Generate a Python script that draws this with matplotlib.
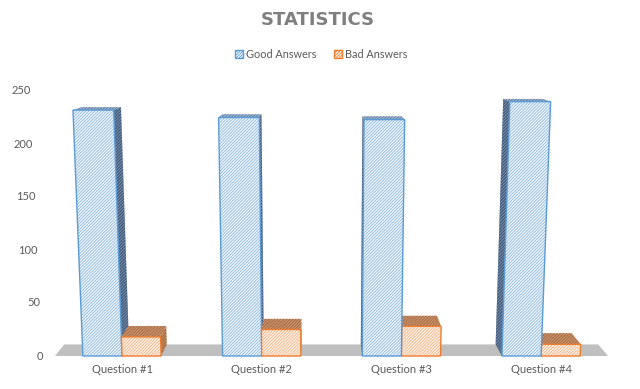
import matplotlib
matplotlib.use("Agg")
import matplotlib.pyplot as plt
from matplotlib.patches import Polygon, Patch

# ---- data ----
categories = ["Question #1", "Question #2", "Question #3", "Question #4"]
good_answers = [232, 225, 223, 240]
bad_answers = [18, 25, 28, 11]
series_names = ["Good Answers", "Bad Answers"]
y_ticks = [0, 50, 100, 150, 200, 250]

# ---- style / geometry ----
plt.rcParams['font.family'] = ['Lato', 'DejaVu Sans']
plt.rcParams['hatch.linewidth'] = 0.6
TXT = '#595959'
HATCH = '/' * 11
BAR_W = 0.28
XC = 1.42          # centre of horizontal flare / vanishing x
VPY = 312.0        # vanishing point height (data units)
K = 0.035          # depth shrink
FLARE = 1.8e-4

styles = {
    "good": dict(front=('#f3f8fd', '#8ab6e0', '#5B9BD5'),
                 side=('#40597a', '#8196b0'),
                 top=('#9bb3cf', '#5f7b9b')),
    "bad": dict(front=('#fef5ee', '#f4ae7c', '#ED7D31'),
                side=('#a8683f', '#cf9469'),
                top=('#c9946c', '#a3653d')),
}


def proj(x, v, d):
    x1 = XC + (x - XC) * (1 + FLARE * v)
    return x1 + (XC - x1) * K * d, v + (VPY - v) * K * d


fig = plt.figure(figsize=(6.4, 3.89), dpi=100)
ax = fig.add_axes([0, 33 / 389, 1, 356 / 389])
ax.set_xlim(-122 / 139.7, (640 - 122) / 139.7)
ax.set_ylim(0, 356 / 1.06)
for s in ax.spines.values():
    s.set_visible(False)
ax.set_yticks([])


def face(pts, fc, hc, ec=None, z=2):
    ax.add_patch(Polygon(pts, closed=True, facecolor=fc, edgecolor=hc,
                         hatch=HATCH, linewidth=0, zorder=z, clip_on=False))
    if ec is not None:
        ax.add_patch(Polygon(pts, closed=True, fill=False, edgecolor=ec,
                             linewidth=1.0, zorder=z, clip_on=False))


# floor
fl, fr = -0.48, 3.48
floor = [proj(fl, 0, 0), proj(fr, 0, 0), proj(fr, 0, 1), proj(fl, 0, 1)]
ax.add_patch(Polygon(floor, closed=True, facecolor='#bfbfbf', edgecolor='none',
                     zorder=1, clip_on=False))

# bars
bars = []
for i in range(len(categories)):
    bars.append((i - BAR_W, i, good_answers[i], "good"))
    bars.append((i, i + BAR_W, bad_answers[i], "bad"))
bars.sort(key=lambda b: -abs((b[0] + b[1]) / 2 - XC))

for x0, x1, v, kind in bars:
    st = styles[kind]
    if x1 < XC:
        side = [proj(x1, 0, 0), proj(x1, v, 0), proj(x1, v, 1), proj(x1, 0, 1)]
        face(side, *st['side'])
    elif x0 > XC:
        side = [proj(x0, 0, 0), proj(x0, v, 0), proj(x0, v, 1), proj(x0, 0, 1)]
        face(side, *st['side'])
    top = [proj(x0, v, 0), proj(x1, v, 0), proj(x1, v, 1), proj(x0, v, 1)]
    face(top, *st['top'])
    front = [proj(x0, 0, 0), proj(x1, 0, 0), proj(x1, v, 0), proj(x0, v, 0)]
    fc, hc, ec = st['front']
    face(front, fc, hc, ec)

# x tick labels
ax.set_xticks(range(len(categories)), categories)
ax.tick_params(axis='x', length=0, pad=6, labelsize=8, labelcolor=TXT)

# y tick labels (in perspective)
for t in y_ticks:
    x, _ = proj((43 - 122) / 139.7, t, 0)
    ax.text(x, t, str(t), ha='right', va='center', fontsize=8, color=TXT)

# title
fig.text(0.497, 1 - 20 / 389, "STATISTICS", ha='center', va='center',
         fontsize=13, fontweight='bold', color='#7f7f7f',
         family=['DejaVu Sans'])

# legend
handles = [Patch(facecolor='#f3f8fd', edgecolor='#5B9BD5', hatch=HATCH),
           Patch(facecolor='#fef5ee', edgecolor='#ED7D31', hatch=HATCH)]
fig.legend(handles, series_names, loc='center', bbox_to_anchor=(0.502, 1 - 54 / 389),
           ncol=2, frameon=False, fontsize=7.8, handlelength=0.7, handleheight=0.7,
           handletextpad=0.3, columnspacing=1.6, labelcolor=TXT)

fig.savefig("out.png", dpi=100)
